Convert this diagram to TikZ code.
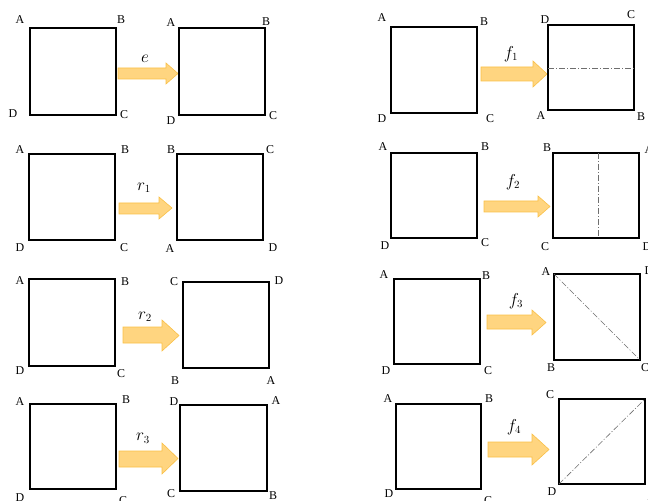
\documentclass[tikz,border=0pt]{standalone}
\usepackage{fontspec}
\setmainfont{Liberation Serif}
\definecolor{arrfill}{RGB}{255,213,128}
\definecolor{arrdraw}{RGB}{250,192,70}
\definecolor{axisgray}{RGB}{110,110,110}
\newcommand\fatarrow[7]{%
  \draw[fatarr] (#1,#4) -- (#3,#4) -- (#3,#6) -- (#2,{(#6+#7)/2}) -- (#3,#7) -- (#3,#5) -- (#1,#5) -- cycle;}
\tikzset{
  sqline/.style={draw=black, line width=1.3bp},
  lab/.style={inner sep=0pt, font=\fontsize{12}{14}\selectfont},
  opname/.style={inner sep=0pt, font=\fontsize{16}{18}\selectfont},
  fatarr/.style={fill=arrfill, draw=arrdraw, line width=0.6bp},
  axisline/.style={draw=axisgray, line width=0.6bp, dash pattern=on 6bp off 2bp on 1bp off 2bp}
}
\begin{document}
\begin{tikzpicture}[x=1bp, y=-1bp]
\useasboundingbox (0,0) rectangle (648,501);
% ---------- row 1 : e ----------
\draw[sqline] (30,28) rectangle (116,115);
\node[lab] (a1A) at (20,20) {A}; \node[lab] (a1B) at (121,20) {B};
\node[lab] (a1D) at (13,114) {D}; \node[lab] (a1C) at (124,115) {C};
\fatarrow{118}{178}{166}{68}{79}{63}{84}
\node[opname] (e) at (145,59) {$e$};
\draw[sqline] (179,28) rectangle (265,115);
\node[lab] (b1A) at (171,23) {A}; \node[lab] (b1B) at (266,22) {B};
\node[lab] (b1D) at (171,121) {D}; \node[lab] (b1C) at (273,116) {C};
% ---------- row 1 : f1 ----------
\draw[sqline] (391,27) rectangle (477,113);
\node[lab] (c1A) at (382,18) {A}; \node[lab] (c1B) at (484,22) {B};
\node[lab] (c1D) at (382,119) {D}; \node[lab] (c1C) at (490,119) {C};
\fatarrow{481}{547}{533}{67}{81}{61}{87}
\node[opname] (f1) at (511,54) {$f_1$};
\draw[sqline] (548,25) rectangle (634,110);
\draw[axisline] (548,68) -- (634,68);
\node[lab] (d1D) at (545,20) {D}; \node[lab] (d1C) at (631,15) {C};
\node[lab] (d1A) at (541,116) {A}; \node[lab] (d1B) at (641,117) {B};
% ---------- row 2 : r1 ----------
\draw[sqline] (29,154) rectangle (115,240);
\node[lab] (a2A) at (20,150) {A}; \node[lab] (a2B) at (125,150) {B};
\node[lab] (a2D) at (20,248) {D}; \node[lab] (a2C) at (124,248) {C};
\fatarrow{119}{172}{159}{203}{214}{197}{219}
\node[opname] (r1) at (144,188) {$r_1$};
\draw[sqline] (177,154) rectangle (263,240);
\node[lab] (b2B) at (171,150) {B}; \node[lab] (b2C) at (270,150) {C};
\node[lab] (b2A) at (170,249) {A}; \node[lab] (b2D) at (273,248) {D};
% ---------- row 2 : f2 ----------
\draw[sqline] (391,153) rectangle (477,238);
\node[lab] (c2A) at (383,147) {A}; \node[lab] (c2B) at (485,147) {B};
\node[lab] (c2D) at (385,246) {D}; \node[lab] (c2C) at (485,243) {C};
\fatarrow{484}{550}{538}{201}{212}{196}{217}
\node[opname] (f2) at (513,182) {$f_2$};
\draw[sqline] (553,153) rectangle (639,238);
\draw[axisline] (598,153) -- (598,238);
\node[lab] (d2B) at (547,148) {B}; \node[lab] (d2A) at (649,150) {A};
\node[lab] (d2C) at (545,247) {C}; \node[lab] (d2D) at (647,247) {D};
% ---------- row 3 : r2 ----------
\draw[sqline] (29,279) rectangle (115,366);
\node[lab] (a3A) at (20,281) {A}; \node[lab] (a3B) at (125,282) {B};
\node[lab] (a3D) at (20,371) {D}; \node[lab] (a3C) at (121,374) {C};
\fatarrow{123}{179}{162}{327}{343}{320}{351}
\node[opname] (r2) at (145,317) {$r_2$};
\draw[sqline] (183,282) rectangle (269,368);
\node[lab] (b3C) at (174,282) {C}; \node[lab] (b3D) at (279,281) {D};
\node[lab] (b3B) at (175,381) {B}; \node[lab] (b3A) at (271,381) {A};
% ---------- row 3 : f3 ----------
\draw[sqline] (394,279) rectangle (480,364);
\node[lab] (c3A) at (384,275) {A}; \node[lab] (c3B) at (486,276) {B};
\node[lab] (c3D) at (386,371) {D}; \node[lab] (c3C) at (488,371) {C};
\fatarrow{487}{546}{532}{315}{329}{310}{335}
\node[opname] (f3) at (516,301) {$f_3$};
\draw[sqline] (554,274) rectangle (640,360);
\draw[axisline] (554,274) -- (640,360);
\node[lab] (d3A) at (546,272) {A}; \node[lab] (d3D) at (649,271) {D};
\node[lab] (d3B) at (551,368) {B}; \node[lab] (d3C) at (645,368) {C};
% ---------- row 4 : r3 ----------
\draw[sqline] (30,404) rectangle (116,489);
\node[lab] (a4A) at (20,402) {A}; \node[lab] (a4B) at (126,400) {B};
\node[lab] (a4D) at (20,498) {D}; \node[lab] (a4C) at (123,501) {C};
\fatarrow{119}{178}{162}{451}{467}{443}{474}
\node[opname] (r3) at (143,438) {$r_3$};
\draw[sqline] (180,405) rectangle (267,491);
\node[lab] (b4D) at (174,402) {D}; \node[lab] (b4A) at (276,401) {A};
\node[lab] (b4C) at (171,494) {C}; \node[lab] (b4B) at (273,496) {B};
% ---------- row 4 : f4 ----------
\draw[sqline] (396,404) rectangle (481,489);
\node[lab] (c4A) at (388,399) {A}; \node[lab] (c4B) at (489,399) {B};
\node[lab] (c4D) at (389,494) {D}; \node[lab] (c4C) at (488,501) {C};
\fatarrow{488}{549}{532}{442}{457}{434}{465}
\node[opname] (f4) at (514,427) {$f_4$};
\draw[sqline] (559,399) rectangle (645,484);
\draw[axisline] (559,484) -- (645,399);
\node[lab] (d4C) at (550,395) {C}; \node[lab] (d4D) at (552,492) {D};
\node[lab] (d4A) at (652,497) {A};
\end{tikzpicture}
\end{document}
